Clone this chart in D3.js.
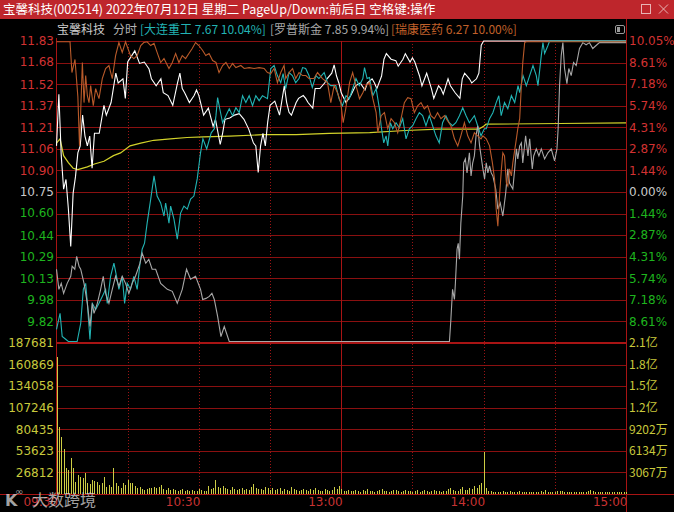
<!DOCTYPE html>
<html>
<head>
<meta charset="utf-8">
<script src="https://cdn.jsdelivr.net/npm/d3@7"></script>
<style>
  html, body { margin: 0; padding: 0; background: #000; overflow: hidden; }
  svg { display: block; }
</style>
</head>
<body>
<div id="chart"></div>
<script>
// ---- data ----
var preClose = 10.75, limitPct = 10.05;

var priceTicks = [11.83, 11.68, 11.52, 11.37, 11.21, 11.06, 10.90, 10.75, 10.60, 10.44, 10.29, 10.13, 9.98, 9.82];
var pctTicks = [10.05, 8.61, 7.18, 5.74, 4.31, 2.87, 1.44, 0, -1.44, -2.87, -4.31, -5.74, -7.18, -8.61];
var volTicks = [187681, 160869, 134058, 107246, 80435, 53623, 26812];
var amountLabels = ["2.1亿", "1.8亿", "1.5亿", "1.2亿", "9202万", "6134万", "3067万"];
var timeTicks = [0, 60, 120, 180, 240];
var timeLabels = ["09:30", "10:30", "13:00", "14:00", "15:00"];
var dottedMinutes = [30, 60, 90, 150, 180, 210];
var breakMinute = 120;

// 宝馨科技 price [minute, price]
var mainPrice = [[0,11.08],[1,11.45],[2,11.01],[3,10.77],[4,10.84],[5,10.63],[6,10.36],[7,10.74],[8,10.86],[9,11.03],[10,11.08],[11,11.30],[12,11.15],[13,11.08],[14,11.15],[15,10.92],[16,11.17],[18,11.17],[20,11.37],[21,11.30],[23,11.39],[25,11.60],[26,11.53],[28,11.56],[29,11.42],[30,11.68],[33,11.76],[35,11.67],[37,11.68],[39,11.63],[40,11.56],[42,11.51],[44,11.56],[45,11.46],[47,11.44],[49,11.37],[51,11.53],[52,11.60],[53,11.49],[54,11.46],[56,11.39],[58,11.44],[59,11.48],[60,11.44],[62,11.30],[64,11.35],[66,11.22],[67,11.27],[69,11.09],[70,11.17],[71,11.27],[73,11.28],[75,11.30],[77,11.31],[79,11.27],[81,11.20],[83,11.10],[84,11.08],[85,10.89],[86,11.08],[87,11.17],[88,11.08],[89,11.25],[90,11.37],[92,11.40],[93,11.35],[94,11.30],[96,11.51],[97,11.39],[98,11.32],[99,11.30],[101,11.39],[102,11.42],[104,11.44],[105,11.42],[106,11.39],[108,11.35],[109,11.49],[111,11.49],[113,11.53],[114,11.56],[116,11.60],[117,11.66],[118,11.58],[119,11.53],[120,11.46],[122,11.39],[124,11.44],[126,11.51],[128,11.53],[130,11.48],[131,11.53],[133,11.56],[134,11.53],[135,11.49],[137,11.58],[138,11.70],[139,11.74],[141,11.70],[143,11.69],[144,11.65],[146,11.70],[147,11.74],[149,11.68],[150,11.71],[151,11.68],[153,11.58],[154,11.51],[156,11.60],[158,11.49],[159,11.42],[161,11.51],[162,11.49],[163,11.45],[165,11.56],[166,11.51],[168,11.46],[170,11.42],[171,11.56],[172,11.60],[174,11.56],[175,11.53],[177,11.56],[178,11.60],[179,11.80],[180,11.83],[240,11.83]];

// average price [minute, price]
var avgPrice = [[0,11.10],[1.5,11.13],[3,11.01],[5,10.96],[7,10.92],[9,10.91],[13,10.93],[16,10.95],[20,10.97],[24,11.01],[27,11.03],[31,11.08],[35.5,11.10],[41,11.12],[48,11.13],[55,11.14],[62,11.145],[73,11.15],[87,11.16],[101,11.16],[115,11.17],[132,11.175],[147,11.19],[161,11.20],[178,11.20],[180,11.22],[181,11.235],[212,11.24],[240,11.245]];

// 大连重工 change % [minute, pct]
var dlzgPct = [[0,-9.15],[1.5,-8.08],[2.4,-9.62],[4,-9.82],[5,-9.95],[8.7,-9.95],[10.2,-8.75],[11.3,-6.48],[12.3,-6.08],[13,-7.41],[14.1,-9.82],[15.1,-7.41],[16.5,-7.82],[17.9,-7.41],[19.3,-6.95],[20.7,-6.48],[21.4,-7.41],[22.8,-5.61],[24.2,-4.74],[25.3,-5.61],[26.3,-6.48],[27.7,-5.61],[28.7,-7.41],[29.8,-6.08],[31.2,-6.48],[32.6,-5.61],[34,-6.48],[35.2,-4.74],[36.1,-3.81],[37.1,-3.41],[38.2,-2.07],[39.7,-0.47],[41.1,1.07],[42.4,-0.27],[43.9,-0.73],[45.3,-1.60],[46,-0.73],[47.4,-2.07],[48.1,-0.94],[49.5,-1.80],[50.9,-3.14],[52.3,-1.40],[53.7,-0.94],[55.1,-1.14],[56.5,-0.47],[57.9,-0.27],[59.3,0.87],[60.7,2.61],[61.7,3.54],[63.3,2.87],[65.2,3.94],[66.5,4.21],[67.2,5.08],[67.9,6.28],[68.8,5.54],[70,4.61],[71.4,5.08],[72.8,5.54],[74.2,5.08],[75.6,5.61],[77,5.28],[78.4,6.41],[79.8,5.95],[81.2,6.41],[82.6,5.74],[84,6.41],[85.4,6.08],[86.8,6.41],[88.9,6.21],[90.3,8.22],[91.7,8.42],[93.1,7.75],[94.5,7.28],[95.5,7.88],[96.6,6.88],[98,7.95],[99.4,7.75],[100.8,7.28],[102.2,7.55],[103.7,8.28],[105,8.22],[106.4,7.75],[107.8,6.95],[109.3,7.75],[110.6,7.55],[112.8,7.95],[114.2,7.28],[115.6,7.08],[117.7,7.08],[119.1,6.21],[120.5,5.74],[122,6.41],[123.4,6.21],[124.8,6.88],[126.2,7.55],[127.6,7.08],[129.1,7.55],[129.8,8.28],[130.9,7.55],[131.9,7.62],[133.3,6.41],[134.7,6.88],[136.1,5.54],[136.8,4.41],[137.9,3.27],[138.9,3.74],[139.6,3.07],[140.7,4.61],[141.7,4.21],[143.1,4.61],[144.5,4.28],[145.9,4.88],[147.3,3.54],[148.7,4.21],[150.1,4.41],[151.5,4.88],[152.9,5.28],[154.3,5.08],[155.7,4.41],[157.1,5.08],[158.5,4.41],[159.9,3.74],[161.3,3.27],[162.7,4.61],[164.1,5.08],[165.5,4.61],[166.9,4.41],[168.3,4.61],[169.8,5.08],[171.2,5.61],[172.6,5.08],[174,4.61],[176.1,5.08],[177.5,4.41],[178.9,3.74],[180.3,4.21],[181.1,4.21],[182.5,4.88],[183.9,5.28],[185.3,5.95],[186.4,6.41],[187.4,5.08],[188.8,5.95],[190.2,5.54],[191.7,6.41],[193.1,5.95],[194.5,7.08],[195.2,6.61],[196.6,7.75],[198,7.08],[199.4,7.75],[200.8,8.42],[202.2,7.75],[202.9,7.08],[204.3,9.08],[205,9.95],[205.7,9.22],[207.1,9.75],[207.8,10.04],[240,10.04]];

// 罗普斯金 change % [minute, pct]
var lpsjPct = [[0,-5.14],[1,-6.48],[2,-6.08],[3,-6.75],[4.5,-6.08],[6,-5.61],[6.6,-4.94],[7.7,-5.14],[8.5,-4.28],[9.5,-4.94],[10.2,-5.14],[11.6,-6.08],[13,-7.41],[14.1,-8.95],[15.1,-7.41],[15.8,-8.08],[17.2,-7.41],[18.6,-6.48],[19.7,-5.61],[20.7,-6.75],[22.1,-7.41],[23.5,-6.48],[24.9,-5.61],[26.3,-6.28],[27.7,-5.61],[29.1,-6.08],[30.5,-6.75],[31.9,-6.08],[33.3,-5.61],[35.2,-4.74],[36.1,-4.07],[37.6,-4.74],[38.9,-4.48],[40.3,-5.14],[41.8,-5.14],[43.9,-6.08],[46.7,-6.48],[48.8,-6.61],[50.9,-7.41],[53,-6.48],[54.8,-5.14],[56.5,-5.81],[58.6,-5.61],[60.7,-6.48],[61.6,-7.15],[63,-7.08],[64.4,-6.95],[65.5,-6.75],[66.5,-7.15],[67.9,-8.28],[69.3,-9.62],[70.7,-8.95],[72.8,-9.95],[165.6,-9.95],[166.2,-8.48],[166.9,-6.48],[167.7,-7.15],[168.1,-6.08],[168.8,-3.81],[169.3,-3.41],[169.8,-4.48],[170.4,-2.07],[171.2,-0.27],[171.6,1.94],[172.3,2.20],[173,1.27],[174,2.61],[174.7,1.07],[175.4,1.94],[176.1,2.40],[176.8,3.74],[177.5,4.41],[178.3,3.07],[179.7,1.54],[180.4,0.87],[181.1,1.94],[181.8,1.27],[182.5,1.74],[183.2,1.27],[183.9,1.07],[185.1,0.20],[186,-1.14],[187,-0.73],[188.1,-1.60],[189.3,-0.07],[190.2,1.54],[190.9,0.60],[192.3,0.20],[193.1,1.54],[193.8,2.87],[194.4,2.20],[195.2,3.07],[195.9,3.27],[196.5,1.94],[197.7,3.74],[198.7,2.40],[199.4,3.54],[200.5,1.54],[201.1,2.40],[202.2,2.87],[203.3,2.40],[204.3,2.87],[205.7,2.20],[207.1,2.61],[208.5,2.87],[209.9,2.07],[210.9,2.87],[211.4,4.21],[212,7.08],[212.7,9.08],[213.4,9.94],[214.1,8.22],[215.1,7.21],[215.9,8.22],[216.9,7.75],[217.9,8.62],[219,8.42],[220.4,9.55],[221.8,9.94],[223.2,9.80],[224.6,9.94],[226,9.55],[227.4,9.75],[228.8,9.94],[240,9.94]];

// 瑞康医药 change % [minute, pct]
var rkyyPct = [[0,10.0],[5.7,10.0],[5.9,9.49],[6.5,7.95],[7.8,8.82],[9,6.35],[9.7,3.07],[10.9,8.62],[11.6,5.95],[12.3,7.75],[13,6.41],[13.7,5.95],[14.4,7.08],[15.5,5.74],[16.5,6.88],[17.9,6.21],[19.3,7.55],[20.7,8.22],[22.1,8.42],[23.5,7.55],[24.9,9.08],[26.3,9.95],[27.7,9.29],[29.1,10.0],[30.1,9.55],[31.2,9.08],[32.6,8.88],[34,9.08],[35.5,9.75],[36.8,9.95],[38.2,10.0],[39.7,9.75],[41.1,9.89],[42.4,9.29],[43.9,8.62],[45.3,8.88],[47.4,8.22],[48.8,8.62],[50.2,9.22],[51.6,8.62],[53,9.08],[54.4,8.88],[55.8,9.22],[57.2,9.55],[58.6,9.95],[60,9.75],[61.6,9.42],[62.9,9.08],[64.3,9.22],[65.8,8.75],[67.2,8.62],[68.5,7.95],[70,8.42],[71.4,8.62],[72.8,8.22],[74.2,8.55],[75.6,8.28],[77.7,8.42],[79.1,8.22],[81.2,8.28],[83.3,8.22],[85.4,8.28],[87.5,8.22],[88.9,7.95],[90.3,7.88],[91.7,8.22],[93.1,7.28],[94.5,7.95],[95.9,8.42],[96.6,7.55],[98,7.95],[99.5,8.22],[100.8,7.55],[102.2,7.95],[103.7,7.75],[105.1,7.75],[106.4,7.55],[108.5,7.55],[110,7.95],[112.1,7.55],[114.2,7.28],[115.6,5.95],[117,7.08],[118.4,6.61],[119.8,5.95],[120.8,4.61],[121.9,5.54],[123.5,7.28],[124.8,7.95],[126.2,7.08],[127.7,6.21],[129.1,6.61],[130.4,7.08],[131.9,7.28],[133.3,6.21],[134.7,5.28],[135.4,3.94],[136.8,5.08],[138.2,5.28],[139.6,4.21],[141,4.88],[142.4,4.61],[143.8,3.94],[145.2,4.88],[146.6,5.95],[148,6.28],[149.4,6.21],[150.8,5.28],[152.2,5.74],[153.6,5.95],[155,5.54],[156.4,5.74],[157.8,5.08],[159.2,4.88],[160.6,5.28],[162,4.88],[163.5,5.08],[164.8,4.74],[166.2,4.41],[167.7,3.54],[169.1,3.07],[170.4,3.74],[171.9,4.61],[173.3,3.74],[174.7,3.27],[176.1,3.94],[177.5,3.74],[178.9,3.54],[179.7,3.74],[181.1,3.54],[182.5,3.07],[183.7,1.94],[184.6,0.87],[185.3,-1.14],[186,-2.27],[186.7,-0.27],[187.5,1.54],[188.1,2.61],[188.8,2.40],[189.6,0.60],[190.2,0.40],[190.9,1.54],[191.7,1.07],[192.3,1.94],[193.8,3.54],[194.4,4.21],[195.2,4.88],[195.9,7.08],[196.5,8.62],[197.3,9.95],[198,10.0],[240,10.0]];

// volume per minute (hands), minute 0..240
var volume = [
  170700, 82900, 70500, 55900, 32700, 29800, 45100, 32000, 15300, 23600,
  20800, 19500, 26500, 13300, 12400, 17400, 16500, 15300, 11200, 13300,
  20800, 9100, 11200, 8300, 32700, 14000, 9900, 7100, 13300, 11200,
  17400, 14000, 14000, 10300, 7800, 9100, 5800, 5000, 6200, 7100,
  7800, 9100, 7100, 9100, 10800, 6200, 5000, 7100, 5000, 6200,
  5400, 4100, 5000, 6200, 4100, 5000, 4100, 5400, 3700, 4100,
  6200, 5400, 4100, 3300, 9900, 5800, 7100, 17400, 9100, 7100,
  10300, 7500,
  6800, 5200, 8400, 6100, 4700, 5600, 7300, 4900, 6600, 5100,
  8800, 12600, 7400, 5900, 6300, 4800, 9200, 7700, 5300, 6900,
  4400, 5800, 7100, 3900, 6200, 5000, 4300, 8100, 5600, 4700,
  3800, 5200, 6400, 4500, 3600, 5900, 4800, 7200, 5100, 4200,
  3500, 6000, 4600, 3900, 5300, 8600, 6700, 9400,
  5800, 4300, 3600, 5100, 4000, 3300, 4700, 3800, 2900, 4400,
  3500, 5600, 4100, 3200, 2800, 3900, 4600, 6300, 3700, 4200,
  3000, 3400, 5200, 4400, 3800, 2700, 3600, 4900, 3300, 4100,
  2600, 3800, 4500, 3100, 3700, 5400, 4000, 2900, 3500, 4800,
  3200, 3900, 2800, 4300, 3600, 5800, 7400, 4900, 4200, 3700,
  6100, 8900, 5500, 4600, 7800, 6300, 9600, 7100, 11800, 14200,
  52600,
  7500, 4100, 3300, 2600, 3100, 2400, 2900, 3600, 2200, 2700,
  3200, 2500, 2000, 2800, 3400, 2300, 2600, 3000, 2100, 2500,
  2900, 2200, 2700, 3300, 2400, 4600, 3100, 2600, 2300, 2800,
  3900, 3500, 4200, 3000, 2500, 2100, 2700, 2400, 2000, 2600,
  2300, 2900, 2200, 3600, 4400, 3200, 2800, 2500, 2100, 2400,
  2700, 2200, 3000, 2500, 1900, 2300, 2600, 2100, 2400, 2800
];

// ---- drawing ----
var W = 674, H = 512;
var plotLeft = 56.5, plotRight = 626;
var plotTop = 41, plotMid = 343, plotBottom = 494;

var red = "#d23232", green = "#1eb41e", neutral = "#c8c8c8", yellowTxt = "#c8c83c";
var gridColor = "#8a1010";
var numFont = "'DejaVu Sans', Arial, sans-serif";
var cjkFont = "'Noto Sans CJK SC', 'Noto Sans', sans-serif";

var svg = d3.select("#chart").append("svg")
    .attr("width", W).attr("height", H)
    .style("background", "#000");

var x = d3.scaleLinear().domain([0, 240]).range([plotLeft, plotRight]);
var yPct = d3.scaleLinear().domain([-limitPct, limitPct]).range([plotMid, plotTop]);
var yPrice = d3.scaleLinear()
    .domain([preClose * (1 - limitPct / 100), preClose * (1 + limitPct / 100)])
    .range([plotMid, plotTop]);
var yVol = d3.scaleLinear().domain([0, volTicks[0]]).range([plotBottom, plotMid]);

// title bar
svg.append("rect").attr("x", 0).attr("y", 0).attr("width", W).attr("height", 19).attr("fill", "#be262c");
svg.append("text").attr("x", 3).attr("y", 14)
    .attr("fill", "#fff").style("font", "12.5px " + cjkFont)
    .text("宝馨科技(002514) 2022年07月12日 星期二 PageUp/Down:前后日 空格键:操作");
svg.append("rect").attr("x", 641.5).attr("y", 4.5).attr("width", 9).attr("height", 9)
    .attr("fill", "none").attr("stroke", "#e8b4b4");
svg.append("path").attr("d", "M659,4.5 L668,13.5 M668,4.5 L659,13.5")
    .attr("stroke", "#e8b4b4").attr("fill", "none");

// header row with legend of overlays
var header = [
  {x: 57, text: "宝馨科技", color: "#c8c8c8"},
  {x: 113, text: "分时", color: "#b4b4b4"},
  {x: 140, text: "[大连重工 7.67 10.04%]", color: "#22b4b4"},
  {x: 270, text: "[罗普斯金 7.85 9.94%]", color: "#a8a8a8"},
  {x: 391, text: "[瑞康医药 6.27 10.00%]", color: "#c0602a"}
];
svg.selectAll("text.hdr").data(header).enter().append("text")
    .attr("class", "hdr")
    .attr("x", function(d) { return d.x; }).attr("y", 34)
    .attr("fill", function(d) { return d.color; })
    .style("font", "12px " + cjkFont)
    .text(function(d) { return d.text; });
svg.append("rect").attr("x", 615.5).attr("y", 25.5).attr("width", 9).attr("height", 8).attr("rx", 1.5)
    .attr("fill", "none").attr("stroke", "#9a9a9a");
svg.append("rect").attr("x", 617).attr("y", 27).attr("width", 3).attr("height", 5).attr("fill", "#9a9a9a");

// horizontal grid
var grid = svg.append("g").attr("shape-rendering", "crispEdges");
grid.selectAll("line.pg").data(pctTicks).enter().append("line")
    .attr("x1", plotLeft).attr("x2", plotRight)
    .attr("y1", function(d) { return Math.round(yPct(d)) + 0.5; })
    .attr("y2", function(d) { return Math.round(yPct(d)) + 0.5; })
    .attr("stroke", gridColor);
grid.selectAll("line.vg").data(volTicks.slice(1)).enter().append("line")
    .attr("x1", plotLeft).attr("x2", plotRight)
    .attr("y1", function(d) { return Math.round(yVol(d)) + 0.5; })
    .attr("y2", function(d) { return Math.round(yVol(d)) + 0.5; })
    .attr("stroke", gridColor);
// panel separator and baseline
grid.append("line").attr("x1", plotLeft).attr("x2", plotRight)
    .attr("y1", yPct(-limitPct)).attr("y2", yPct(-limitPct))
    .attr("stroke", "#a81414").attr("stroke-width", 2);
grid.append("line").attr("x1", 0).attr("x2", W)
    .attr("y1", yVol(0) + 0.5).attr("y2", yVol(0) + 0.5)
    .attr("stroke", "#a81414").attr("stroke-width", 1.5);

// vertical time lines
grid.selectAll("line.vt").data(dottedMinutes).enter().append("line")
    .attr("x1", function(d) { return Math.round(x(d)) + 0.5; })
    .attr("x2", function(d) { return Math.round(x(d)) + 0.5; })
    .attr("y1", plotTop).attr("y2", plotBottom)
    .attr("stroke", "#9a1414").attr("stroke-dasharray", "1,2");
grid.append("line")
    .attr("x1", Math.round(x(breakMinute)) + 0.5).attr("x2", Math.round(x(breakMinute)) + 0.5)
    .attr("y1", plotTop).attr("y2", plotBottom).attr("stroke", "#a81414");
// borders
grid.append("line").attr("x1", 56.5).attr("x2", 56.5).attr("y1", 38).attr("y2", plotBottom)
    .attr("stroke", "#a81414");
grid.append("line").attr("x1", 626.5).attr("x2", 626.5).attr("y1", 19).attr("y2", H)
    .attr("stroke", "#a81414");

// volume bars
svg.append("g").attr("shape-rendering", "crispEdges")
  .selectAll("rect").data(volume).enter().append("rect")
    .attr("x", function(d, i) { return Math.round(x(i)); })
    .attr("width", 1)
    .attr("y", function(d) { return yVol(d); })
    .attr("height", function(d) { return yVol(0) - yVol(d); })
    .attr("fill", "#cccc44");

// lines
var pctLine = d3.line().x(function(d) { return x(d[0]); }).y(function(d) { return yPct(d[1]); });
var priceLine = d3.line().x(function(d) { return x(d[0]); }).y(function(d) { return yPrice(d[1]); });

svg.append("path").datum(avgPrice).attr("d", priceLine)
    .attr("fill", "none").attr("stroke", "#d2d22a").attr("stroke-width", 1.2);
svg.append("path").datum(mainPrice).attr("d", priceLine)
    .attr("fill", "none").attr("stroke", "#ffffff").attr("stroke-width", 1.1);
svg.append("path").datum(dlzgPct).attr("d", pctLine)
    .attr("fill", "none").attr("stroke", "#22b4b4").attr("stroke-width", 1.1);
svg.append("path").datum(lpsjPct).attr("d", pctLine)
    .attr("fill", "none").attr("stroke", "#a8a8a8").attr("stroke-width", 1.1);
svg.append("path").datum(rkyyPct).attr("d", pctLine)
    .attr("fill", "none").attr("stroke", "#b85a2a").attr("stroke-width", 1.1);

// axes
function styleAxis(g) {
  g.select(".domain").remove();
  g.selectAll("text").style("font", "12px " + numFont);
}
var priceColor = function(v) { return v > preClose + 1e-6 ? red : (v < preClose - 1e-6 ? green : neutral); };
var pctColor = function(v) { return v > 0 ? red : (v < 0 ? green : neutral); };

svg.append("g").attr("transform", "translate(54,0)")
    .call(d3.axisLeft(yPrice).tickValues(priceTicks).tickSize(0).tickPadding(0).tickFormat(d3.format(".2f")))
    .call(styleAxis)
    .selectAll("text").attr("fill", priceColor);

svg.append("g").attr("transform", "translate(629,0)")
    .call(d3.axisRight(yPct).tickValues(pctTicks).tickSize(0).tickPadding(0)
      .tickFormat(function(d) { return Math.abs(d).toFixed(2) + "%"; }))
    .call(styleAxis)
    .selectAll("text").attr("fill", pctColor);

svg.append("g").attr("transform", "translate(54,0)")
    .call(d3.axisLeft(yVol).tickValues(volTicks).tickSize(0).tickPadding(0).tickFormat(d3.format("d")))
    .call(styleAxis)
    .selectAll("text").attr("fill", yellowTxt);

svg.append("g").attr("transform", "translate(629,0)")
    .call(d3.axisRight(yVol).tickValues(volTicks).tickSize(0).tickPadding(0)
      .tickFormat(function(d, i) { return amountLabels[i]; }))
    .call(styleAxis)
    .selectAll("text").attr("fill", yellowTxt).style("font", "12px " + cjkFont);

svg.append("g").attr("transform", "translate(0," + (plotBottom + 3) + ")")
    .call(d3.axisBottom(x).tickValues(timeTicks).tickSize(0).tickPadding(0)
      .tickFormat(function(d, i) { return timeLabels[i]; }))
    .call(styleAxis)
    .selectAll("text").attr("fill", "#c83232").attr("text-anchor", "end").attr("dx", 1);

// watermark of the image source, drawn over the first time label as in the picture
var wm = svg.append("g").attr("opacity", 0.75);
wm.append("text").attr("x", 5).attr("y", 506).attr("fill", "#d8d8d8")
    .style("font", "bold 16px " + numFont).text("K");
wm.append("text").attr("x", 15).attr("y", 495).attr("fill", "#d8d8d8")
    .style("font", "10px " + numFont).text("∞");
wm.append("text").attr("x", 32).attr("y", 506).attr("fill", "#d8d8d8")
    .style("font", "16px " + cjkFont).text("大数跨境");
</script>
</body>
</html>
